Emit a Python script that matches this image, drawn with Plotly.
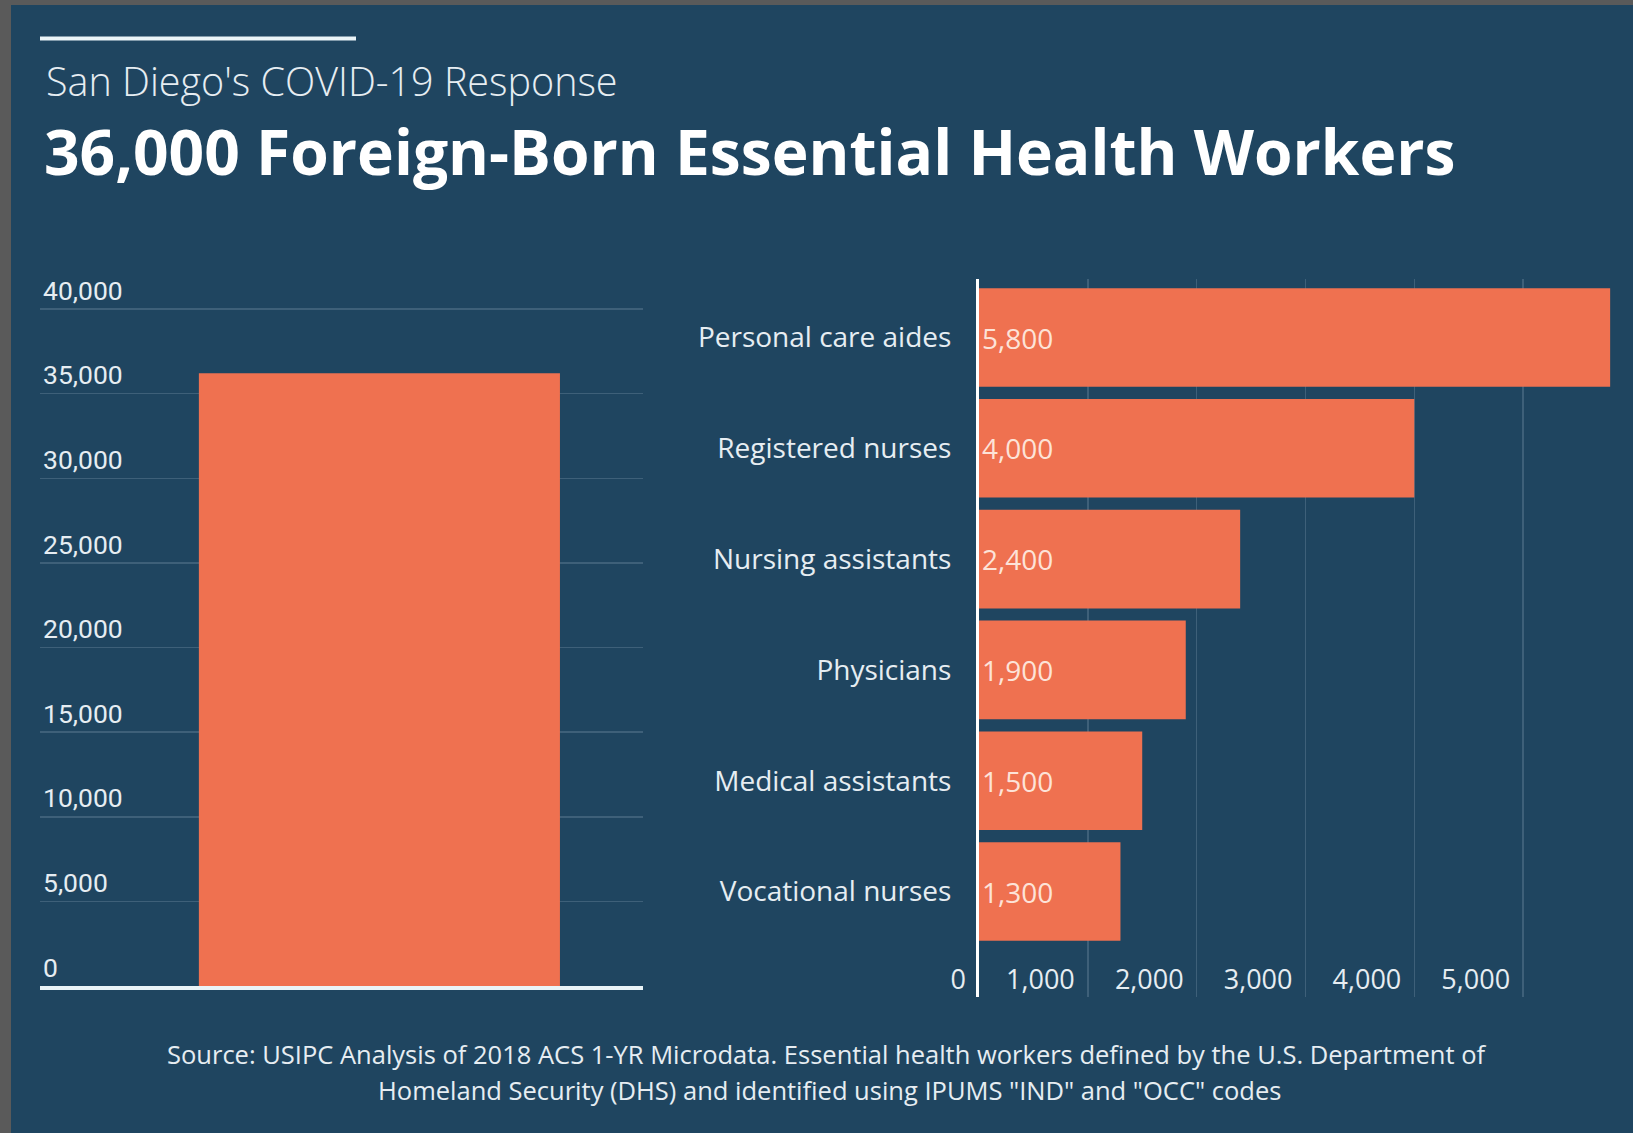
import plotly.graph_objects as go

# ---------------- data ----------------
total_label = ["Foreign-born essential health workers"]
total_value = [36200]

occupations = ["Personal care aides", "Registered nurses", "Nursing assistants",
               "Physicians", "Medical assistants", "Vocational nurses"]
occupation_values = [5800, 4000, 2400, 1900, 1500, 1300]

left_ticks = [0, 5000, 10000, 15000, 20000, 25000, 30000, 35000, 40000]
right_ticks = [0, 1000, 2000, 3000, 4000, 5000]

subtitle = "San Diego's COVID-19 Response"
title = "36,000 Foreign-Born Essential Health Workers"
source_1 = ("Source: USIPC Analysis of 2018 ACS 1-YR Microdata. Essential health workers "
            "defined by the U.S. Department of")
source_2 = "Homeland Security (DHS) and identified using IPUMS \"IND\" and \"OCC\" codes"

# ---------------- style ----------------
W, H = 1633, 1133
NAVY = "#1f4560"
GREY = "#5a5a5a"
ORANGE = "#ef7150"
GRID = "#3e6079"
TEXT = "#e6edf2"
LINE = "#eaf4f8"


def px_x(p):
    return p / W


def px_y(p):
    return 1 - p / H


fig = go.Figure()

fig.add_trace(go.Bar(
    x=total_label, y=total_value, width=0.6,
    marker=dict(color=ORANGE, line=dict(width=0)),
    xaxis="x", yaxis="y", hoverinfo="skip", showlegend=False,
))

fig.add_trace(go.Bar(
    x=occupation_values, y=occupations, orientation="h", width=0.89,
    marker=dict(color=ORANGE, line=dict(width=0)),
    texttemplate="%{x:,}", textposition="inside", insidetextanchor="start",
    textfont=dict(family="Open Sans", size=28, color="#fde3d8"),
    constraintext="none",
    xaxis="x2", yaxis="y2", hoverinfo="skip", showlegend=False,
))

# left chart: 0 at 986px, 40,000 at 309px; range extended upward so the top label fits
left_top_val = 46000
left_top_px = 986 - (986 - 309) * left_top_val / 40000

fig.update_layout(
    width=W, height=H,
    margin=dict(l=0, r=0, t=0, b=0, autoexpand=False),
    paper_bgcolor=GREY,
    plot_bgcolor="rgba(0,0,0,0)",
    showlegend=False,
    xaxis=dict(
        domain=[px_x(40), px_x(643)], anchor="y", automargin=False,
        type="category", range=[-0.564, 0.438],
        showticklabels=False, showgrid=False, zeroline=False,
        showline=True, linecolor=LINE, linewidth=4, ticks="",
    ),
    yaxis=dict(
        domain=[px_y(986), px_y(left_top_px)], anchor="x", automargin=False,
        range=[0, left_top_val], tickvals=left_ticks, tickformat=",",
        ticklabelposition="inside top",
        tickfont=dict(family="Roboto", size=26.5, color=TEXT),
        showgrid=True, gridcolor=GRID, gridwidth=1.5,
        zeroline=False, showline=False, ticks="",
    ),
    xaxis2=dict(
        domain=[px_x(979), 1.0], anchor="y2", automargin=False,
        range=[0, 6010], tickvals=right_ticks, tickformat=",",
        ticklabelposition="outside left", ticklabelstandoff=-36, ticklabelshift=-13,
        tickfont=dict(family="Open Sans", size=27, color=TEXT),
        showgrid=True, gridcolor=GRID, gridwidth=1.5,
        zeroline=False, showline=False, ticks="",
    ),
    yaxis2=dict(
        domain=[px_y(997), px_y(279)], anchor="x2", automargin=False,
        type="category", range=[5.952, -0.528],
        tickfont=dict(family="Open Sans", size=28, color=TEXT),
        ticklabelstandoff=19,
        showgrid=False, zeroline=False,
        showline=True, linecolor="#ffffff", linewidth=3, ticks="",
    ),
    shapes=[
        dict(type="rect", xref="paper", yref="paper",
             x0=px_x(11), x1=1, y0=0, y1=px_y(5),
             fillcolor=NAVY, line=dict(width=0), layer="below"),
        dict(type="line", xref="paper", yref="paper",
             x0=px_x(40), x1=px_x(356), y0=px_y(38.5), y1=px_y(38.5),
             line=dict(color=LINE, width=4)),
    ],
    annotations=[
        dict(text=subtitle, xref="paper", yref="paper", x=px_x(44), y=px_y(81),
             xanchor="left", yanchor="middle", showarrow=False,
             font=dict(family="Open Sans", size=39.5, color=TEXT, weight=300)),
        dict(text="<b>" + title + "</b>", xref="paper", yref="paper", x=px_x(42), y=px_y(151),
             xanchor="left", yanchor="middle", showarrow=False,
             font=dict(family="Open Sans", size=62.3, color="#ffffff")),
        dict(text=source_1, xref="paper", yref="paper", x=px_x(827), y=px_y(1054),
             xanchor="center", yanchor="middle", showarrow=False,
             font=dict(family="Open Sans", size=25.5, color=TEXT)),
        dict(text=source_2, xref="paper", yref="paper", x=px_x(829), y=px_y(1090),
             xanchor="center", yanchor="middle", showarrow=False,
             font=dict(family="Open Sans", size=25.5, color=TEXT)),
    ],
)

fig.write_html(
    "out.html",
    config={"displayModeBar": False, "staticPlot": True},
    post_script="document.body.style.margin='0';document.body.style.overflow='hidden';",
)
